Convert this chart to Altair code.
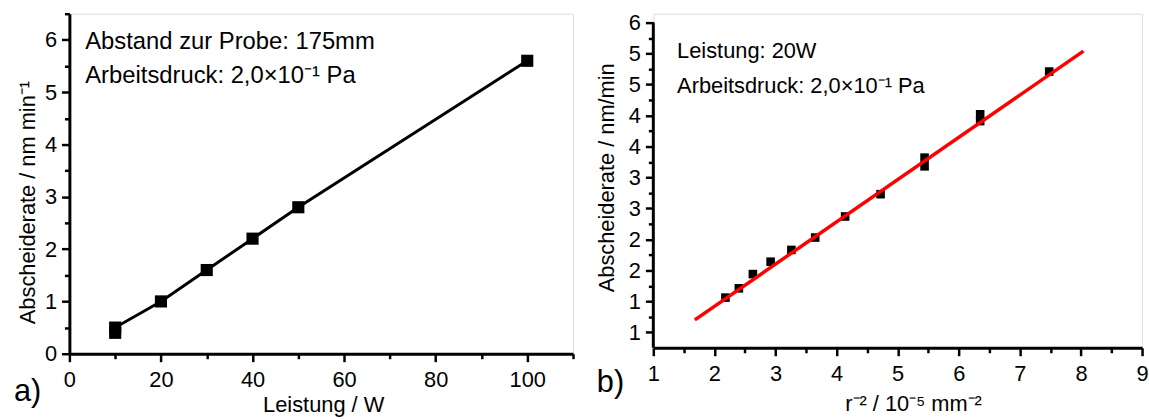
import altair as alt
import pandas as pd

FONT = "Liberation Sans"

# ---------------- panel a) ----------------
a_power = [10, 10, 20, 30, 40, 50, 100]
a_rate = [0.4, 0.5, 1.0, 1.6, 2.2, 2.8, 5.6]
a_xticks = [0, 20, 40, 60, 80, 100]
a_xtick_labels = ["0", "20", "40", "60", "80", "100"]
a_xminor = [10, 30, 50, 70, 90, 110]
a_yticks = [0, 1, 2, 3, 4, 5, 6]
a_ytick_labels = ["0", "1", "2", "3", "4", "5", "6"]
a_yminor = [0.5, 1.5, 2.5, 3.5, 4.5, 5.5, 6.5]
a_xtitle = "Leistung / W"
a_ytitle = "Abscheiderate / nm min⁻¹"
a_notes = ["Abstand zur Probe: 175mm", "Arbeitsdruck: 2,0×10⁻¹ Pa"]
a_tag = "a)"

# ---------------- panel b) ----------------
b_r2 = [2.18, 2.40, 2.63, 2.92, 3.26, 3.65, 4.14, 4.72, 5.44, 5.44, 6.35, 6.35, 7.48]
b_rate = [1.06, 1.21, 1.44, 1.64, 1.83, 2.03, 2.37, 2.73, 3.18, 3.32, 3.91, 4.02, 4.71]
b_fit_x = [1.68, 8.04]
b_fit_y = [0.70, 5.04]
b_xticks = [1, 2, 3, 4, 5, 6, 7, 8, 9]
b_xtick_labels = ["1", "2", "3", "4", "5", "6", "7", "8", "9"]
b_xminor = [1.5, 2.5, 3.5, 4.5, 5.5, 6.5, 7.5, 8.5]
b_yticks = [0.5, 1.0, 1.5, 2.0, 2.5, 3.0, 3.5, 4.0, 4.5, 5.0, 5.5]
b_ytick_labels = ["1", "1", "2", "2", "3", "3", "4", "4", "5", "5", "6"]
b_yminor = [0.75, 1.25, 1.75, 2.25, 2.75, 3.25, 3.75, 4.25, 4.75, 5.25]
b_yaxis_span = [0.25, 5.5]
b_xtitle = "r⁻² / 10⁻⁵ mm⁻²"
b_ytitle = "Abscheiderate / nm/min"
b_notes = ["Leistung: 20W", "Arbeitsdruck: 2,0×10⁻¹ Pa"]
b_tag = "b)"

LABEL_SIZE = 22
TITLE_SIZE = 22


def js_num(v):
    return repr(float(v))


def make_axis(major, labels, minor, **kw):
    values = sorted(set(major) | set(minor))
    expr = "''"
    for v, lab in reversed(list(zip(major, labels))):
        expr = f"datum.value === {js_num(v)} ? '{lab}' : ({expr})"
    major_list = "[" + ",".join(js_num(v) for v in major) + "]"
    opts = dict(
        values=values,
        labelExpr=expr,
        tickSize={"condition": {"test": f"indexof({major_list}, datum.value) >= 0", "value": 8}, "value": 5},
        tickWidth=2.5,
        tickColor="black",
        domainColor="black",
        domainWidth=3,
        grid=False,
        labelFontSize=LABEL_SIZE,
        labelColor="black",
        labelFont=FONT,
        labelFlush=False,
        labelOverlap=False,
        titleFontSize=TITLE_SIZE,
        titleFont=FONT,
        titleFontWeight="normal",
        titleColor="black",
    )
    opts.update(kw)
    return alt.Axis(**opts)


def note(text, x, y, size):
    return alt.Chart(pd.DataFrame({"t": [text]})).mark_text(
        align="left", baseline="alphabetic", fontSize=size, font=FONT, color="black"
    ).encode(text="t:N", x=alt.value(x), y=alt.value(y))


# ---- panel a ----
df_a = pd.DataFrame({"power": a_power, "rate": a_rate})
ax_a_x = make_axis(a_xticks, a_xtick_labels, a_xminor, title=a_xtitle, labelPadding=8,
                   titleX=256, titleY=58, titleBaseline="alphabetic", titleAlign="center")
ax_a_y = make_axis(a_yticks, a_ytick_labels, a_yminor, title=a_ytitle, labelPadding=5,
                   titleX=-42, titleY=190, titleBaseline="middle", titleAlign="center", titleAngle=270)
xa = alt.X("power:Q", scale=alt.Scale(domain=[0, 110], nice=False, zero=False), axis=ax_a_x)
ya = alt.Y("rate:Q", scale=alt.Scale(domain=[0, 6.5], nice=False, zero=False), axis=ax_a_y)

a_line = alt.Chart(df_a).mark_line(color="black", strokeWidth=3).encode(x=xa, y=ya)
a_pts = alt.Chart(df_a).mark_square(size=150, color="black", opacity=1).encode(x=xa, y=ya)
panel_a = alt.layer(
    a_line, a_pts,
    note(a_notes[0], 16, 36, 24),
    note(a_notes[1], 16, 70, 24),
    note(a_tag, -56, 391, 31),
).properties(width=508, height=343)

# ---- panel b ----
df_b = pd.DataFrame({"r2": b_r2, "rate": b_rate})
df_fit = pd.DataFrame({"r2": b_fit_x, "rate": b_fit_y})
df_yaxis = pd.DataFrame({"rate": [b_yaxis_span[0]], "rate_end": [b_yaxis_span[1]]})
ax_b_x = make_axis(b_xticks, b_xtick_labels, b_xminor, title=b_xtitle, labelPadding=8,
                   titleX=262, titleY=63, titleBaseline="alphabetic", titleAlign="center")
ax_b_y = make_axis(b_yticks, b_ytick_labels, b_yminor, title=b_ytitle, labelPadding=5, domain=False,
                   titleX=-47, titleY=165, titleBaseline="middle", titleAlign="center", titleAngle=270)
xb = alt.X("r2:Q", scale=alt.Scale(domain=[1, 9], nice=False, zero=False), axis=ax_b_x)
yb = alt.Y("rate:Q", scale=alt.Scale(domain=[0.25, 5.644], nice=False, zero=False), axis=ax_b_y)

b_axisline = alt.Chart(df_yaxis).mark_rule(color="black", strokeWidth=3).encode(
    x=alt.value(0), y=yb, y2="rate_end:Q")
b_pts = alt.Chart(df_b).mark_square(size=75, color="black", opacity=1).encode(x=xb, y=yb)
b_fit = alt.Chart(df_fit).mark_line(color="#ff0000", strokeWidth=3.5).encode(x=xb, y=yb)
panel_b = alt.layer(
    b_axisline, b_pts, b_fit,
    note(b_notes[0], 24, 45, 22),
    note(b_notes[1], 24, 80, 22),
    note(b_tag, -57, 382, 31),
).properties(width=493, height=337)

chart = alt.ConcatChart(
    concat=[panel_a, panel_b], columns=2, spacing=20, align="none", bounds="full"
).properties(
    padding={"left": 13, "top": 0, "right": 0, "bottom": 0}
).configure_view(stroke=None).configure(font=FONT)

chart.save("out.html", embed_options={"renderer": "svg", "actions": False})
